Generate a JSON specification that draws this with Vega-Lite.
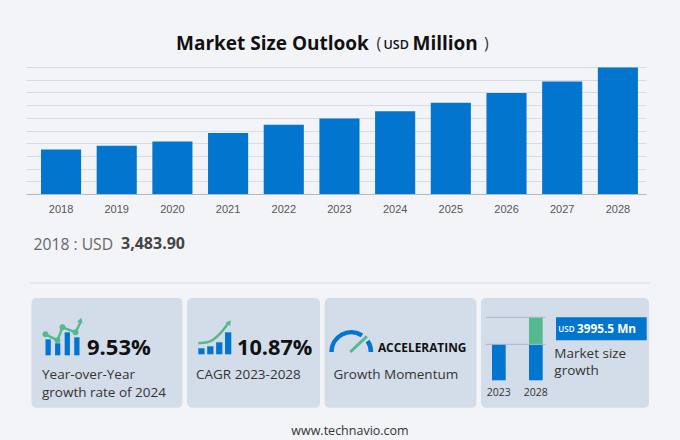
{"$schema":"https://vega.github.io/schema/vega-lite/v6.json","background":"#f3f4f7","padding":{"left":26,"top":0,"right":31,"bottom":0},"bounds":"flush","spacing":0,"config":{"view":{"stroke":null},"font":"Open Sans"},
"vconcat":[
{"width":620,"height":67,"resolve":{"scale":{"x":"independent","y":"independent"}},"layer":[
{"data":{"values":[{"label":"Market Size Outlook"}]},"mark":{"type":"text","align":"left","baseline":"middle","fontWeight":"bold","fontSize":19,"color":"#111111"},"encoding":{"text":{"field":"label"},"x":{"datum":150,"scale":{"domain":[0,620]},"axis":null},"y":{"datum":43.5,"scale":{"domain":[67,0]},"axis":null}}},
{"data":{"values":[{"label":"("}]},"mark":{"type":"text","align":"left","baseline":"middle","fontSize":16,"color":"#333333"},"encoding":{"text":{"field":"label"},"x":{"datum":350.5,"scale":{"domain":[0,620]},"axis":null},"y":{"datum":44,"scale":{"domain":[67,0]},"axis":null}}},
{"data":{"values":[{"label":"USD"}]},"mark":{"type":"text","align":"left","baseline":"middle","fontWeight":600,"fontSize":12.5,"color":"#111111"},"encoding":{"text":{"field":"label"},"x":{"datum":357.5,"scale":{"domain":[0,620]},"axis":null},"y":{"datum":45,"scale":{"domain":[67,0]},"axis":null}}},
{"data":{"values":[{"label":"Million"}]},"mark":{"type":"text","align":"left","baseline":"middle","fontWeight":"bold","fontSize":19,"color":"#111111"},"encoding":{"text":{"field":"label"},"x":{"datum":386.5,"scale":{"domain":[0,620]},"axis":null},"y":{"datum":43.5,"scale":{"domain":[67,0]},"axis":null}}},
{"data":{"values":[{"label":")"}]},"mark":{"type":"text","align":"left","baseline":"middle","fontSize":16,"color":"#333333"},"encoding":{"text":{"field":"label"},"x":{"datum":458,"scale":{"domain":[0,620]},"axis":null},"y":{"datum":44,"scale":{"domain":[67,0]},"axis":null}}}
]},
{"width":620,"height":127,"data":{"values":[{"year":"2018","value":3483.9},{"year":"2019","value":3782},{"year":"2020","value":4119},{"year":"2021","value":4776},{"year":"2022","value":5426},{"year":"2023","value":5916},{"year":"2024","value":6480},{"year":"2025","value":7149},{"year":"2026","value":7908},{"year":"2027","value":8817},{"year":"2028","value":9912}]},
"mark":{"type":"bar","color":"#0275cf"},
"encoding":{"x":{"field":"year","type":"ordinal","title":null,"scale":{"paddingInner":0.28,"paddingOuter":0.207,"align":0.65},"axis":{"labelAngle":0,"labelFont":"Liberation Sans","labelFontSize":11,"labelColor":"#555555","labelPadding":9,"ticks":false,"domainColor":"#b4b8bf","grid":false}},
"y":{"field":"value","type":"quantitative","title":null,"scale":{"domain":[0,9950]},"axis":{"values":[0,995,1990,2985,3980,4975,5970,6965,7960,8955,9950],"labels":false,"ticks":false,"domain":false,"grid":true,"gridColor":"#d9dbe0","gridWidth":1}}}},
{"width":620,"height":104,"resolve":{"scale":{"x":"independent","y":"independent"}},"layer":[
{"data":{"values":[{"year":2018,"unit":"USD","label":"2018 : USD"}]},"mark":{"type":"text","align":"left","baseline":"middle","fontSize":15.7,"color":"#666666"},"encoding":{"text":{"field":"label"},"x":{"datum":7.5,"scale":{"domain":[0,620]},"axis":null},"y":{"datum":51,"scale":{"domain":[104,0]},"axis":null}}},
{"data":{"values":[{"value":3483.9}]},"mark":{"type":"text","align":"left","baseline":"middle","fontSize":16,"fontWeight":"bold","color":"#444444"},"encoding":{"text":{"field":"value","type":"quantitative","format":",.2f"},"x":{"datum":95,"scale":{"domain":[0,620]},"axis":null},"y":{"datum":50,"scale":{"domain":[104,0]},"axis":null}}},
{"data":{"values":[{"name":"separator"}]},"mark":{"type":"rule","color":"#dcdde1","strokeWidth":1},"encoding":{"x":{"datum":4,"scale":{"domain":[0,620]},"axis":null},"x2":{"datum":624},"y":{"datum":89,"scale":{"domain":[104,0]},"axis":null}}}
]},
{"bounds":"flush","spacing":4.5,"hconcat":[
{"width":0.5,"height":109.7,"data":{"values":[{"name":"spacer"}]},"mark":{"type":"rule","opacity":0},"encoding":{"x":{"datum":0,"axis":null}}},
{"width":151,"height":109.7,"view":{"fill":"#d3dde9","cornerRadius":5,"stroke":null},"resolve":{"scale":{"x":"independent","y":"independent"}},"layer":[
{"data":{"values":[{"i":1,"v":16},{"i":2,"v":12},{"i":3,"v":23},{"i":4,"v":18}]},"mark":{"type":"bar","color":"#0275cf"},"encoding":{"x":{"field":"i","type":"ordinal","axis":null,"scale":{"range":[14,48],"paddingInner":0.45,"paddingOuter":0}},"y":{"field":"v","type":"quantitative","axis":null,"scale":{"domain":[0,23],"range":[57.3,34.3]}}}},
{"data":{"values":[{"t":0,"v":21},{"t":12,"v":15},{"t":17,"v":28},{"t":30,"v":23},{"t":35,"v":33}]},"mark":{"type":"line","color":"#55b98f","strokeWidth":2.5},"encoding":{"x":{"field":"t","type":"quantitative","axis":null,"scale":{"domain":[0,35],"range":[14,49]}},"y":{"field":"v","type":"quantitative","axis":null,"scale":{"domain":[0,36],"range":[57.3,21.3]}}}},
{"data":{"values":[{"t":0,"v":21},{"t":12,"v":15},{"t":17,"v":28},{"t":30,"v":23}]},"mark":{"type":"point","filled":true,"opacity":1,"size":35,"color":"#55b98f"},"encoding":{"x":{"field":"t","type":"quantitative","axis":null,"scale":{"domain":[0,35],"range":[14,49]}},"y":{"field":"v","type":"quantitative","axis":null,"scale":{"domain":[0,36],"range":[57.3,21.3]}}}},
{"data":{"values":[{"t":35,"v":35}]},"mark":{"type":"point","shape":"triangle-up","filled":true,"opacity":1,"size":35,"angle":15,"color":"#55b98f"},"encoding":{"x":{"field":"t","type":"quantitative","axis":null,"scale":{"domain":[0,35],"range":[14,49]}},"y":{"field":"v","type":"quantitative","axis":null,"scale":{"domain":[0,36],"range":[57.3,21.3]}}}},
{"data":{"values":[{"label":"9.53%"}]},"mark":{"type":"text","align":"left","baseline":"middle","fontWeight":"bold","fontSize":22,"color":"#111111"},"encoding":{"text":{"field":"label"},"x":{"datum":55.5,"scale":{"domain":[0,151]},"axis":null},"y":{"datum":50,"scale":{"domain":[109.7,0]},"axis":null}}},
{"data":{"values":[{"label":"Year-over-Year"}]},"mark":{"type":"text","align":"left","baseline":"middle","fontSize":13.5,"color":"#333333"},"encoding":{"text":{"field":"label"},"x":{"datum":10.5,"scale":{"domain":[0,151]},"axis":null},"y":{"datum":77.4,"scale":{"domain":[109.7,0]},"axis":null}}},
{"data":{"values":[{"label":"growth rate of 2024"}]},"mark":{"type":"text","align":"left","baseline":"middle","fontSize":13.5,"color":"#333333"},"encoding":{"text":{"field":"label"},"x":{"datum":10.5,"scale":{"domain":[0,151]},"axis":null},"y":{"datum":94.6,"scale":{"domain":[109.7,0]},"axis":null}}}
]},
{"width":133,"height":109.7,"view":{"fill":"#d3dde9","cornerRadius":5,"stroke":null},"resolve":{"scale":{"x":"independent","y":"independent"}},"layer":[
{"data":{"values":[{"i":1,"v":6},{"i":2,"v":8},{"i":3,"v":12},{"i":4,"v":22}]},"mark":{"type":"bar","color":"#0275cf"},"encoding":{"x":{"field":"i","type":"ordinal","axis":null,"scale":{"range":[11.3,44.3],"paddingInner":0.3,"paddingOuter":0}},"y":{"field":"v","type":"quantitative","axis":null,"scale":{"domain":[0,22],"range":[56.3,34.3]}}}},
{"data":{"values":[{"t":0,"v":11},{"t":9,"v":12},{"t":22,"v":21},{"t":30,"v":31}]},"mark":{"type":"line","color":"#55b98f","strokeWidth":2.5,"interpolate":"monotone"},"encoding":{"x":{"field":"t","type":"quantitative","axis":null,"scale":{"domain":[0,32],"range":[11.3,43.3]}},"y":{"field":"v","type":"quantitative","axis":null,"scale":{"domain":[0,33],"range":[56.3,23.3]}}}},
{"data":{"values":[{"t":31,"v":32}]},"mark":{"type":"point","shape":"triangle-up","filled":true,"opacity":1,"size":35,"angle":35,"color":"#55b98f"},"encoding":{"x":{"field":"t","type":"quantitative","axis":null,"scale":{"domain":[0,32],"range":[11.3,43.3]}},"y":{"field":"v","type":"quantitative","axis":null,"scale":{"domain":[0,33],"range":[56.3,23.3]}}}},
{"data":{"values":[{"label":"10.87%"}]},"mark":{"type":"text","align":"left","baseline":"middle","fontWeight":"bold","fontSize":21.7,"color":"#111111"},"encoding":{"text":{"field":"label"},"x":{"datum":50,"scale":{"domain":[0,133]},"axis":null},"y":{"datum":50,"scale":{"domain":[109.7,0]},"axis":null}}},
{"data":{"values":[{"label":"CAGR  2023-2028"}]},"mark":{"type":"text","align":"left","baseline":"middle","fontSize":13.5,"color":"#333333"},"encoding":{"text":{"field":"label"},"x":{"datum":9,"scale":{"domain":[0,133]},"axis":null},"y":{"datum":77.4,"scale":{"domain":[109.7,0]},"axis":null}}}
]},
{"width":152,"height":109.7,"view":{"fill":"#d3dde9","cornerRadius":5,"stroke":null},"resolve":{"scale":{"x":"independent","y":"independent","theta":"independent"}},"layer":[
{"data":{"values":[{"from":-90,"to":33},{"from":56,"to":90}]},"mark":{"type":"arc","innerRadius":17.5,"outerRadius":22,"color":"#0275cf"},"encoding":{"theta":{"field":"from","type":"quantitative","scale":{"domain":[-90,90],"range":[-1.5708,1.5708]}},"theta2":{"field":"to"},"x":{"datum":26.7,"scale":{"domain":[0,152]},"axis":null},"y":{"datum":54,"scale":{"domain":[109.7,0]},"axis":null}}},
{"data":{"values":[{"name":"needle"}]},"mark":{"type":"rule","color":"#55b98f","strokeWidth":3},"encoding":{"x":{"datum":25.7,"scale":{"domain":[0,152]},"axis":null},"x2":{"datum":42.4},"y":{"datum":54,"scale":{"domain":[109.7,0]},"axis":null},"y2":{"datum":38.3}}},
{"data":{"values":[{"label":"ACCELERATING"}]},"mark":{"type":"text","align":"left","baseline":"middle","fontWeight":"bold","fontSize":11.9,"color":"#111111"},"encoding":{"text":{"field":"label"},"x":{"datum":53.4,"scale":{"domain":[0,152]},"axis":null},"y":{"datum":49.7,"scale":{"domain":[109.7,0]},"axis":null}}},
{"data":{"values":[{"label":"Growth Momentum"}]},"mark":{"type":"text","align":"left","baseline":"middle","fontSize":13.5,"color":"#333333"},"encoding":{"text":{"field":"label"},"x":{"datum":9,"scale":{"domain":[0,152]},"axis":null},"y":{"datum":77.4,"scale":{"domain":[109.7,0]},"axis":null}}}
]},
{"width":168,"height":109.7,"view":{"fill":"#d3dde9","cornerRadius":5,"stroke":null},"resolve":{"scale":{"x":"independent","y":"independent","color":"independent"}},"layer":[
{"data":{"values":[{"year":"2023","part":"base","v":36},{"year":"2028","part":"base","v":36},{"year":"2028","part":"increase","v":27}]},"mark":{"type":"bar"},"encoding":{"x":{"field":"year","type":"ordinal","axis":null,"scale":{"type":"band","range":[11,61.7],"paddingInner":0.63,"paddingOuter":0}},"y":{"field":"v","type":"quantitative","axis":null,"scale":{"domain":[0,63],"range":[82.3,19.3]}},"color":{"field":"part","legend":null,"scale":{"domain":["base","increase"],"range":["#0275cf","#55b98f"]}},"order":{"field":"part","sort":"ascending"}}},
{"data":{"values":[{"v":36},{"v":63}]},"mark":{"type":"rule","color":"#a9b6c5","strokeWidth":1},"encoding":{"x":{"datum":5,"scale":{"domain":[0,168]},"axis":null},"x2":{"datum":64.7},"y":{"field":"v","type":"quantitative","axis":null,"scale":{"domain":[0,63],"range":[82.3,19.3]}}}},
{"data":{"values":[{"year":"2023"},{"year":"2028"}]},"mark":{"type":"text","baseline":"middle","fontSize":10.5,"color":"#333333"},"encoding":{"text":{"field":"year"},"x":{"field":"year","type":"ordinal","axis":null,"scale":{"type":"band","range":[11,61.7],"paddingInner":0.63,"paddingOuter":0}},"y":{"datum":94.7,"scale":{"domain":[109.7,0]},"axis":null}}},
{"data":{"values":[{"name":"box"}]},"mark":{"type":"rect","color":"#0275cf"},"encoding":{"x":{"datum":75,"scale":{"domain":[0,168]},"axis":null},"x2":{"datum":165.7},"y":{"datum":19.3,"scale":{"domain":[109.7,0]},"axis":null},"y2":{"datum":42.3}}},
{"data":{"values":[{"label":"USD"}]},"mark":{"type":"text","align":"left","baseline":"middle","fontWeight":600,"fontSize":8,"color":"#ffffff"},"encoding":{"text":{"field":"label"},"x":{"datum":77.3,"scale":{"domain":[0,168]},"axis":null},"y":{"datum":32,"scale":{"domain":[109.7,0]},"axis":null}}},
{"data":{"values":[{"label":"3995.5 Mn"}]},"mark":{"type":"text","align":"left","baseline":"middle","fontWeight":"bold","fontSize":11.8,"color":"#ffffff"},"encoding":{"text":{"field":"label"},"x":{"datum":96,"scale":{"domain":[0,168]},"axis":null},"y":{"datum":31,"scale":{"domain":[109.7,0]},"axis":null}}},
{"data":{"values":[{"label":"Market size"}]},"mark":{"type":"text","align":"left","baseline":"middle","fontSize":13.5,"color":"#333333"},"encoding":{"text":{"field":"label"},"x":{"datum":73.3,"scale":{"domain":[0,168]},"axis":null},"y":{"datum":55.9,"scale":{"domain":[109.7,0]},"axis":null}}},
{"data":{"values":[{"label":"growth"}]},"mark":{"type":"text","align":"left","baseline":"middle","fontSize":13.5,"color":"#333333"},"encoding":{"text":{"field":"label"},"x":{"datum":73.3,"scale":{"domain":[0,168]},"axis":null},"y":{"datum":73.2,"scale":{"domain":[109.7,0]},"axis":null}}}
]}
]},
{"width":620,"height":142,"data":{"values":[{"label":"www.technavio.com"}]},"mark":{"type":"text","align":"center","baseline":"middle","fontSize":12.5,"color":"#333333"},"encoding":{"text":{"field":"label"},"x":{"datum":324,"scale":{"domain":[0,620]},"axis":null},"y":{"datum":132.5,"scale":{"domain":[142,0]},"axis":null}}}
]}
